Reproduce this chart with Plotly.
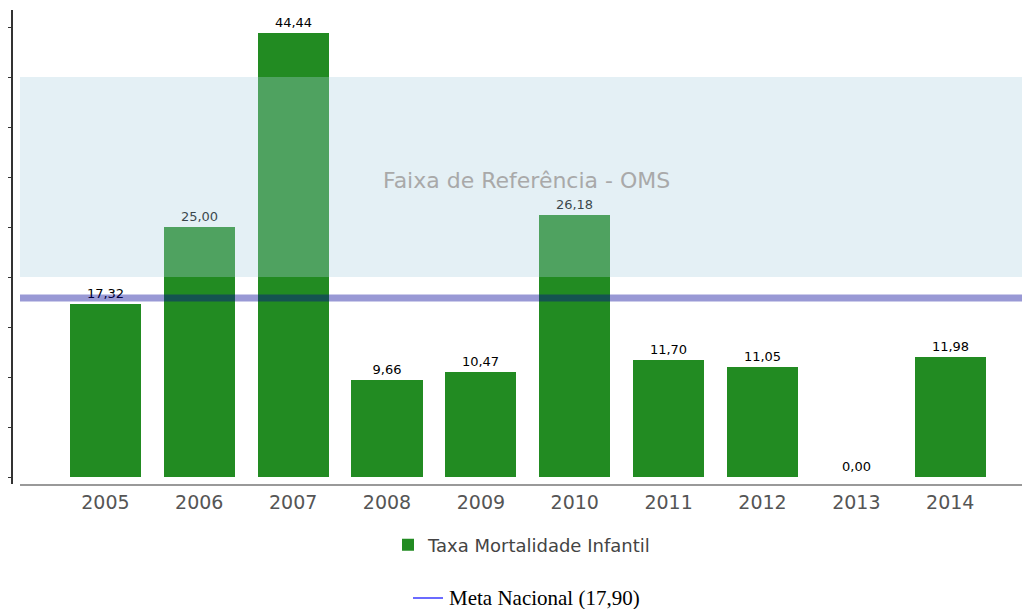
import plotly.graph_objects as go

years = [2005, 2006, 2007, 2008, 2009, 2010, 2011, 2012, 2013, 2014]
taxa = [17.32, 25.00, 44.44, 9.66, 10.47, 26.18, 11.70, 11.05, 0.00, 11.98]
meta_nacional = 17.90
faixa_oms = [20, 40]
series_name = "Taxa Mortalidade Infantil"
band_label = "Faixa de Referência - OMS"

# page body has an 8px margin, so the figure is drawn 8px in from top-left
OFF = 8
W, H = 1030 - OFF, 609 - OFF
ML, MR, MT, MB = 12 - OFF, 0, 10 - OFF, 125
pw = W - ML - MR
ph = H - MT - MB

def px_x(p):
    return (p - OFF - ML) / pw

def px_y(p):
    return (H - MB - (p - OFF)) / ph

fig = go.Figure()
fig.add_trace(go.Bar(
    x=years, y=taxa, name=series_name,
    marker=dict(color="#228B22", line=dict(width=0)),
    width=0.757,
    texttemplate="%{y:.2f}", textposition="outside",
    textfont=dict(family="DejaVu Sans", size=13, color="#000"),
    cliponaxis=False,
    showlegend=True,
))

# reference band
fig.add_shape(type="rect", xref="paper", yref="y",
              x0=px_x(20), x1=1, y0=faixa_oms[0], y1=faixa_oms[1],
              fillcolor="rgba(173,210,225,0.33)", line=dict(width=0), layer="above")
fig.add_annotation(xref="paper", yref="y", x=px_x(526), y=sum(faixa_oms) / 2 - 0.3,
                   text=band_label, showarrow=False,
                   font=dict(family="DejaVu Sans", size=22, color="#a9a9a9"))

# meta line
fig.add_shape(type="line", xref="paper", yref="y",
              x0=px_x(20), x1=1, y0=meta_nacional, y1=meta_nacional,
              line=dict(color="rgba(0,0,150,0.4)", width=7), layer="above")

# meta legend
fig.add_shape(type="line", xref="paper", yref="paper",
              x0=px_x(413), x1=px_x(443), y0=px_y(598), y1=px_y(598),
              line=dict(color="#3a3aff", width=1.5))
meta_text = "Meta Nacional (" + f"{meta_nacional:.2f}".replace(".", ",") + ")"
fig.add_annotation(xref="paper", yref="paper", x=px_x(447), y=px_y(598),
                   xanchor="left", yanchor="middle", text=meta_text, showarrow=False,
                   font=dict(family="Liberation Serif", size=21, color="#000"))

fig.update_layout(
    width=W, height=H,
    margin=dict(l=ML, r=MR, t=MT, b=MB),
    plot_bgcolor="white", paper_bgcolor="white",
    separators=",.",
    bargap=0,
    xaxis=dict(
        domain=[px_x(20), 1],
        range=[2004.09, 2014.85],
        tickvals=years, ticktext=[str(y) for y in years],
        showgrid=False, zeroline=False,
        showline=True, linecolor="#999", linewidth=1.5,
        ticks="", tickfont=dict(family="DejaVu Sans", size=19, color="#555"),
    ),
    yaxis=dict(
        anchor="free", position=0,
        range=[-0.7, 46.7],
        tick0=0, dtick=5,
        showgrid=False, zeroline=False,
        showline=True, linecolor="#333", linewidth=2,
        ticks="outside", ticklen=5, tickcolor="#333", tickwidth=1,
        showticklabels=False,
    ),
    legend=dict(
        orientation="h", x=px_x(522), xanchor="center",
        y=px_y(545), yanchor="middle",
        font=dict(family="DejaVu Sans", size=18, color="#444"),
        bgcolor="rgba(0,0,0,0)",
    ),
)

fig.write_html("out.html")
